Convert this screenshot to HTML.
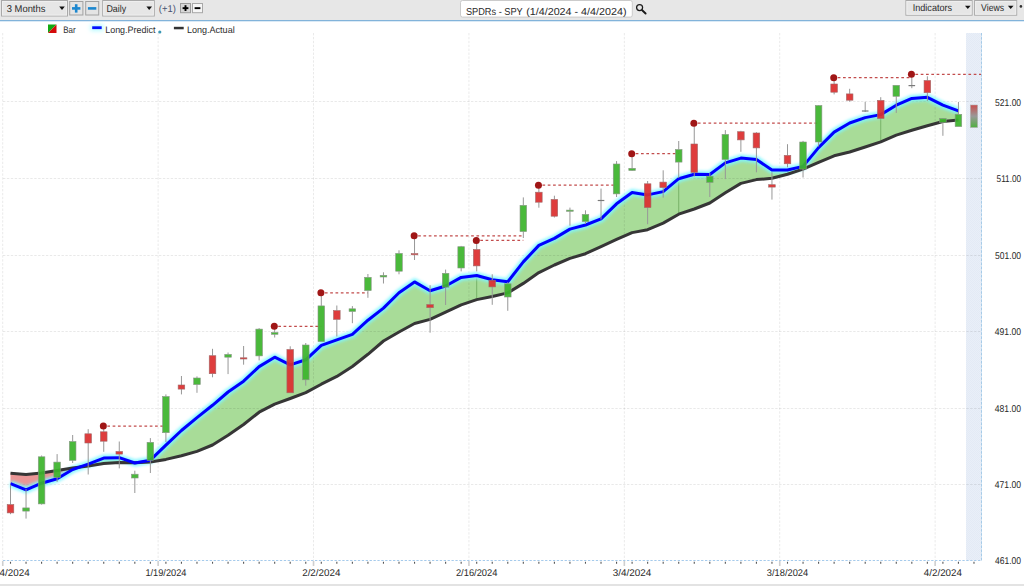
<!DOCTYPE html>
<html><head><meta charset="utf-8">
<style>
html,body{margin:0;padding:0;}
body{width:1024px;height:586px;overflow:hidden;position:relative;background:#fff;}
</style></head>
<body>
<svg width="1024" height="586" viewBox="0 0 1024 586" style="position:absolute;left:0;top:0;font-family:'Liberation Sans',sans-serif;text-rendering:geometricPrecision">
<defs>
<pattern id="hatch" width="2" height="2" patternUnits="userSpaceOnUse">
<rect width="2" height="2" fill="#e9eff8"/>
<rect width="1" height="1" fill="#e3eaf5"/>
<rect x="1" y="1" width="1" height="1" fill="#e3eaf5"/>
</pattern>
<filter id="glow" x="-10%" y="-30%" width="120%" height="160%">
<feGaussianBlur stdDeviation="1.8"/>
</filter>
<filter id="glow2" x="-50%" y="-100%" width="200%" height="300%">
<feGaussianBlur stdDeviation="2.2"/>
</filter>
<linearGradient id="pg" x1="0" y1="0" x2="0" y2="1">
<stop offset="0" stop-color="#c84e4e"/>
<stop offset="0.5" stop-color="#999999"/>
<stop offset="1" stop-color="#50b040"/>
</linearGradient>
</defs>
<rect width="1024" height="586" fill="#fff"/>
<rect x="966" y="33" width="15.5" height="527.5" fill="url(#hatch)"/>
<line x1="981.5" y1="33" x2="981.5" y2="560.5" stroke="#d6e6f4" stroke-width="1"/>
<line x1="981.5" y1="33" x2="981.5" y2="560.5" stroke="#a6cbe8" stroke-width="1" stroke-dasharray="2.5,1.6"/>
<path d="M10.5,483.7 L26.04,489.8 L41.58,483.2 L57.12,478.8 L72.66,469.5 L79.25,467.25 L79.25,467.25 L72.66,468.1 L57.12,470.5 L41.58,473 L26.04,474.4 L10.5,473.2 Z" fill="#ea9696"/>
<path d="M79.25,467.25 L88.2,464.2 L103.74,458.1 L119.28,457.7 L134.2,462.79 L134.2,462.79 L119.28,462.5 L103.74,463.5 L88.2,466.1 L79.25,467.25 Z" fill="#a8dc98"/>
<path d="M134.2,462.79 L134.82,463 L136.37,462.72 L136.37,462.72 L134.82,462.8 L134.2,462.79 Z" fill="#ea9696"/>
<path d="M136.37,462.72 L150.36,460.2 L165.9,445.1 L181.44,430.5 L196.98,417.6 L212.52,405.3 L228.06,392 L243.6,381.2 L259.14,366.6 L274.68,357.2 L290.22,364.9 L305.76,359.8 L321.3,345.4 L336.84,339.8 L352.38,334.3 L367.92,320.2 L383.46,308.1 L399,292.7 L414.54,281.9 L430.08,290.7 L445.62,286 L461.16,277.4 L476.7,275.5 L492.24,279.8 L507.78,281.7 L523.32,261.9 L538.86,245.4 L554.4,238.4 L569.94,229.1 L585.48,225 L601.02,218.9 L616.56,203.8 L632.1,192.5 L647.64,194.9 L663.18,191.6 L678.72,178.7 L694.26,174.3 L709.8,174.5 L725.34,162.9 L740.88,158.1 L756.42,159.5 L771.96,170.1 L787.5,170 L803.04,166.4 L818.58,147.6 L834.12,132.1 L849.66,123 L865.2,117.6 L880.74,114.6 L896.28,105.2 L911.82,98.4 L927.36,97.3 L942.9,105.1 L958.44,110.8 L958.44,120 L942.9,121.5 L927.36,125.7 L911.82,130.3 L896.28,135.1 L880.74,141.9 L865.2,147 L849.66,152 L834.12,155.8 L818.58,162.4 L803.04,169.1 L787.5,174.2 L771.96,178.3 L756.42,179.6 L740.88,183.4 L725.34,192.8 L709.8,203 L694.26,209 L678.72,214.2 L663.18,223.1 L647.64,229.7 L632.1,232.6 L616.56,239.4 L601.02,246.6 L585.48,253.7 L569.94,258.4 L554.4,265 L538.86,272.6 L523.32,283.4 L507.78,292.9 L492.24,296.5 L476.7,299.6 L461.16,304.8 L445.62,312.2 L430.08,319.4 L414.54,323.5 L399,332 L383.46,341 L367.92,354.3 L352.38,366.5 L336.84,376.4 L321.3,384.2 L305.76,392.6 L290.22,398.5 L274.68,404.1 L259.14,412.2 L243.6,424.5 L228.06,435.3 L212.52,445 L196.98,451.4 L181.44,455.8 L165.9,459.4 L150.36,462 L136.37,462.72 Z" fill="#a8dc98"/>
<line x1="476.7" y1="276.5" x2="476.7" y2="298.6" stroke="#78b268" stroke-width="1"/>
<line x1="678.72" y1="179.7" x2="678.72" y2="213.2" stroke="#78b268" stroke-width="1"/>
<line x1="880.74" y1="115.6" x2="880.74" y2="140.9" stroke="#78b268" stroke-width="1"/>
<line x1="3" y1="101.5" x2="981.5" y2="101.5" stroke="#000000" stroke-opacity="0.085" stroke-width="1" stroke-dasharray="2.4,1.5"/>
<line x1="3" y1="178.5" x2="981.5" y2="178.5" stroke="#000000" stroke-opacity="0.085" stroke-width="1" stroke-dasharray="2.4,1.5"/>
<line x1="3" y1="255.5" x2="981.5" y2="255.5" stroke="#000000" stroke-opacity="0.085" stroke-width="1" stroke-dasharray="2.4,1.5"/>
<line x1="3" y1="331.5" x2="981.5" y2="331.5" stroke="#000000" stroke-opacity="0.085" stroke-width="1" stroke-dasharray="2.4,1.5"/>
<line x1="3" y1="408.5" x2="981.5" y2="408.5" stroke="#000000" stroke-opacity="0.085" stroke-width="1" stroke-dasharray="2.4,1.5"/>
<line x1="3" y1="484.5" x2="981.5" y2="484.5" stroke="#000000" stroke-opacity="0.085" stroke-width="1" stroke-dasharray="2.4,1.5"/>
<line x1="2.73" y1="33" x2="2.73" y2="560.5" stroke="#000000" stroke-opacity="0.085" stroke-width="1" stroke-dasharray="2.4,1.5"/>
<line x1="2.73" y1="561" x2="2.73" y2="566" stroke="#cfcfcf" stroke-width="1.6"/>
<line x1="158.13" y1="33" x2="158.13" y2="560.5" stroke="#000000" stroke-opacity="0.085" stroke-width="1" stroke-dasharray="2.4,1.5"/>
<line x1="158.13" y1="561" x2="158.13" y2="566" stroke="#cfcfcf" stroke-width="1.6"/>
<line x1="313.53" y1="33" x2="313.53" y2="560.5" stroke="#000000" stroke-opacity="0.085" stroke-width="1" stroke-dasharray="2.4,1.5"/>
<line x1="313.53" y1="561" x2="313.53" y2="566" stroke="#cfcfcf" stroke-width="1.6"/>
<line x1="468.93" y1="33" x2="468.93" y2="560.5" stroke="#000000" stroke-opacity="0.085" stroke-width="1" stroke-dasharray="2.4,1.5"/>
<line x1="468.93" y1="561" x2="468.93" y2="566" stroke="#cfcfcf" stroke-width="1.6"/>
<line x1="624.33" y1="33" x2="624.33" y2="560.5" stroke="#000000" stroke-opacity="0.085" stroke-width="1" stroke-dasharray="2.4,1.5"/>
<line x1="624.33" y1="561" x2="624.33" y2="566" stroke="#cfcfcf" stroke-width="1.6"/>
<line x1="779.73" y1="33" x2="779.73" y2="560.5" stroke="#000000" stroke-opacity="0.085" stroke-width="1" stroke-dasharray="2.4,1.5"/>
<line x1="779.73" y1="561" x2="779.73" y2="566" stroke="#cfcfcf" stroke-width="1.6"/>
<line x1="935.13" y1="33" x2="935.13" y2="560.5" stroke="#000000" stroke-opacity="0.085" stroke-width="1" stroke-dasharray="2.4,1.5"/>
<line x1="935.13" y1="561" x2="935.13" y2="566" stroke="#cfcfcf" stroke-width="1.6"/>
<polyline points="10.5,483.7 26.04,489.8 41.58,483.2 57.12,478.8 72.66,469.5 88.2,464.2 103.74,458.1 119.28,457.7 134.82,463 150.36,460.2 165.9,445.1 181.44,430.5 196.98,417.6 212.52,405.3 228.06,392 243.6,381.2 259.14,366.6 274.68,357.2 290.22,364.9 305.76,359.8 321.3,345.4 336.84,339.8 352.38,334.3 367.92,320.2 383.46,308.1 399,292.7 414.54,281.9 430.08,290.7 445.62,286 461.16,277.4 476.7,275.5 492.24,279.8 507.78,281.7 523.32,261.9 538.86,245.4 554.4,238.4 569.94,229.1 585.48,225 601.02,218.9 616.56,203.8 632.1,192.5 647.64,194.9 663.18,191.6 678.72,178.7 694.26,174.3 709.8,174.5 725.34,162.9 740.88,158.1 756.42,159.5 771.96,170.1 787.5,170 803.04,166.4 818.58,147.6 834.12,132.1 849.66,123 865.2,117.6 880.74,114.6 896.28,105.2 911.82,98.4 927.36,97.3 942.9,105.1 958.44,110.8" fill="none" stroke="#7ff6ff" stroke-width="7" stroke-linejoin="round" opacity="0.9" filter="url(#glow)"/>
<polyline points="10.5,473.2 26.04,474.4 41.58,473 57.12,470.5 72.66,468.1 88.2,466.1 103.74,463.5 119.28,462.5 134.82,462.8 150.36,462 165.9,459.4 181.44,455.8 196.98,451.4 212.52,445 228.06,435.3 243.6,424.5 259.14,412.2 274.68,404.1 290.22,398.5 305.76,392.6 321.3,384.2 336.84,376.4 352.38,366.5 367.92,354.3 383.46,341 399,332 414.54,323.5 430.08,319.4 445.62,312.2 461.16,304.8 476.7,299.6 492.24,296.5 507.78,292.9 523.32,283.4 538.86,272.6 554.4,265 569.94,258.4 585.48,253.7 601.02,246.6 616.56,239.4 632.1,232.6 647.64,229.7 663.18,223.1 678.72,214.2 694.26,209 709.8,203 725.34,192.8 740.88,183.4 756.42,179.6 771.96,178.3 787.5,174.2 803.04,169.1 818.58,162.4 834.12,155.8 849.66,152 865.2,147 880.74,141.9 896.28,135.1 911.82,130.3 927.36,125.7 942.9,121.5 958.44,120" fill="none" stroke="#363636" stroke-width="3" stroke-linejoin="round"/>
<polyline points="10.5,483.7 26.04,489.8 41.58,483.2 57.12,478.8 72.66,469.5 88.2,464.2 103.74,458.1 119.28,457.7 134.82,463 150.36,460.2 165.9,445.1 181.44,430.5 196.98,417.6 212.52,405.3 228.06,392 243.6,381.2 259.14,366.6 274.68,357.2 290.22,364.9 305.76,359.8 321.3,345.4 336.84,339.8 352.38,334.3 367.92,320.2 383.46,308.1 399,292.7 414.54,281.9 430.08,290.7 445.62,286 461.16,277.4 476.7,275.5 492.24,279.8 507.78,281.7 523.32,261.9 538.86,245.4 554.4,238.4 569.94,229.1 585.48,225 601.02,218.9 616.56,203.8 632.1,192.5 647.64,194.9 663.18,191.6 678.72,178.7 694.26,174.3 709.8,174.5 725.34,162.9 740.88,158.1 756.42,159.5 771.96,170.1 787.5,170 803.04,166.4 818.58,147.6 834.12,132.1 849.66,123 865.2,117.6 880.74,114.6 896.28,105.2 911.82,98.4 927.36,97.3 942.9,105.1 958.44,110.8" fill="none" stroke="#0000ff" stroke-width="3.0" stroke-linejoin="round"/>
<line x1="107.34" y1="426.1" x2="165.9" y2="426.1" stroke="#c24c4c" stroke-width="1.25" stroke-dasharray="2.7,2.6"/>
<line x1="278.28" y1="326.3" x2="321.3" y2="326.3" stroke="#c24c4c" stroke-width="1.25" stroke-dasharray="2.7,2.6"/>
<line x1="324.9" y1="292.8" x2="367.92" y2="292.8" stroke="#c24c4c" stroke-width="1.25" stroke-dasharray="2.7,2.6"/>
<line x1="418.14" y1="235.8" x2="523.32" y2="235.8" stroke="#c24c4c" stroke-width="1.25" stroke-dasharray="2.7,2.6"/>
<line x1="480.3" y1="240.4" x2="523.32" y2="240.4" stroke="#c24c4c" stroke-width="1.25" stroke-dasharray="2.7,2.6"/>
<line x1="542.46" y1="185.2" x2="616.56" y2="185.2" stroke="#c24c4c" stroke-width="1.25" stroke-dasharray="2.7,2.6"/>
<line x1="635.7" y1="153.7" x2="678.72" y2="153.7" stroke="#c24c4c" stroke-width="1.25" stroke-dasharray="2.7,2.6"/>
<line x1="697.86" y1="123.2" x2="818.58" y2="123.2" stroke="#c24c4c" stroke-width="1.25" stroke-dasharray="2.7,2.6"/>
<line x1="837.72" y1="77.7" x2="910" y2="77.7" stroke="#c24c4c" stroke-width="1.25" stroke-dasharray="2.7,2.6"/>
<line x1="915.42" y1="74.3" x2="981" y2="74.3" stroke="#c24c4c" stroke-width="1.25" stroke-dasharray="2.7,2.6"/>
<line x1="10.5" y1="484.5" x2="10.5" y2="504.6" stroke="#979797" stroke-width="1"/>
<line x1="10.5" y1="512.9" x2="10.5" y2="514.2" stroke="#979797" stroke-width="1"/>
<rect x="7.2" y="504.6" width="6.6" height="8.3" fill="#dc2e2e" stroke="#a06a6a" stroke-width="0.6" fill-opacity="0.93"/>
<line x1="26.04" y1="489" x2="26.04" y2="507.9" stroke="#979797" stroke-width="1"/>
<line x1="26.04" y1="511.1" x2="26.04" y2="518.6" stroke="#979797" stroke-width="1"/>
<rect x="22.74" y="507.9" width="6.6" height="3.2" fill="#3cb42c" stroke="#8a9688" stroke-width="0.6" fill-opacity="0.93"/>
<line x1="41.58" y1="455.5" x2="41.58" y2="456.8" stroke="#979797" stroke-width="1"/>
<line x1="41.58" y1="503.9" x2="41.58" y2="504.6" stroke="#979797" stroke-width="1"/>
<rect x="38.28" y="456.8" width="6.6" height="47.1" fill="#3cb42c" stroke="#8a9688" stroke-width="0.6" fill-opacity="0.93"/>
<line x1="57.12" y1="454.1" x2="57.12" y2="462.1" stroke="#979797" stroke-width="1"/>
<line x1="57.12" y1="477.4" x2="57.12" y2="481.9" stroke="#979797" stroke-width="1"/>
<rect x="53.82" y="462.1" width="6.6" height="15.3" fill="#3cb42c" stroke="#8a9688" stroke-width="0.6" fill-opacity="0.93"/>
<line x1="72.66" y1="435" x2="72.66" y2="441.5" stroke="#979797" stroke-width="1"/>
<line x1="72.66" y1="460.4" x2="72.66" y2="463" stroke="#979797" stroke-width="1"/>
<rect x="69.36" y="441.5" width="6.6" height="18.9" fill="#3cb42c" stroke="#8a9688" stroke-width="0.6" fill-opacity="0.93"/>
<line x1="88.2" y1="429.2" x2="88.2" y2="433.8" stroke="#979797" stroke-width="1"/>
<line x1="88.2" y1="443" x2="88.2" y2="474.5" stroke="#979797" stroke-width="1"/>
<rect x="84.9" y="433.8" width="6.6" height="9.2" fill="#dc2e2e" stroke="#a06a6a" stroke-width="0.6" fill-opacity="0.93"/>
<line x1="103.74" y1="426" x2="103.74" y2="431.8" stroke="#979797" stroke-width="1"/>
<line x1="103.74" y1="441.2" x2="103.74" y2="451.8" stroke="#979797" stroke-width="1"/>
<rect x="100.44" y="431.8" width="6.6" height="9.4" fill="#dc2e2e" stroke="#a06a6a" stroke-width="0.6" fill-opacity="0.93"/>
<line x1="119.28" y1="441.5" x2="119.28" y2="451.5" stroke="#979797" stroke-width="1"/>
<line x1="119.28" y1="454.1" x2="119.28" y2="468.4" stroke="#979797" stroke-width="1"/>
<rect x="115.98" y="451.5" width="6.6" height="2.6" fill="#dc2e2e" stroke="#a06a6a" stroke-width="0.6" fill-opacity="0.93"/>
<line x1="134.82" y1="470.7" x2="134.82" y2="474.2" stroke="#979797" stroke-width="1"/>
<line x1="134.82" y1="478" x2="134.82" y2="493" stroke="#979797" stroke-width="1"/>
<rect x="131.52" y="474.2" width="6.6" height="3.8" fill="#3cb42c" stroke="#8a9688" stroke-width="0.6" fill-opacity="0.93"/>
<line x1="150.36" y1="438.1" x2="150.36" y2="442.3" stroke="#979797" stroke-width="1"/>
<line x1="150.36" y1="460.4" x2="150.36" y2="473" stroke="#979797" stroke-width="1"/>
<rect x="147.06" y="442.3" width="6.6" height="18.1" fill="#3cb42c" stroke="#8a9688" stroke-width="0.6" fill-opacity="0.93"/>
<line x1="165.9" y1="394.4" x2="165.9" y2="396.5" stroke="#979797" stroke-width="1"/>
<line x1="165.9" y1="432.7" x2="165.9" y2="442" stroke="#979797" stroke-width="1"/>
<rect x="162.6" y="396.5" width="6.6" height="36.2" fill="#3cb42c" stroke="#8a9688" stroke-width="0.6" fill-opacity="0.93"/>
<line x1="181.44" y1="376" x2="181.44" y2="385" stroke="#979797" stroke-width="1"/>
<line x1="181.44" y1="389.1" x2="181.44" y2="394.4" stroke="#979797" stroke-width="1"/>
<rect x="178.14" y="385" width="6.6" height="4.1" fill="#dc2e2e" stroke="#a06a6a" stroke-width="0.6" fill-opacity="0.93"/>
<line x1="196.98" y1="376.4" x2="196.98" y2="378" stroke="#979797" stroke-width="1"/>
<line x1="196.98" y1="384.6" x2="196.98" y2="392.8" stroke="#979797" stroke-width="1"/>
<rect x="193.68" y="378" width="6.6" height="6.6" fill="#3cb42c" stroke="#8a9688" stroke-width="0.6" fill-opacity="0.93"/>
<line x1="212.52" y1="348.8" x2="212.52" y2="355.7" stroke="#979797" stroke-width="1"/>
<line x1="212.52" y1="373.7" x2="212.52" y2="377.3" stroke="#979797" stroke-width="1"/>
<rect x="209.22" y="355.7" width="6.6" height="18" fill="#dc2e2e" stroke="#a06a6a" stroke-width="0.6" fill-opacity="0.93"/>
<line x1="228.06" y1="352.5" x2="228.06" y2="354.4" stroke="#979797" stroke-width="1"/>
<line x1="228.06" y1="357.2" x2="228.06" y2="374.1" stroke="#979797" stroke-width="1"/>
<rect x="224.76" y="354.4" width="6.6" height="2.8" fill="#3cb42c" stroke="#8a9688" stroke-width="0.6" fill-opacity="0.93"/>
<line x1="243.6" y1="346" x2="243.6" y2="357.8" stroke="#979797" stroke-width="1"/>
<line x1="243.6" y1="359" x2="243.6" y2="364.7" stroke="#979797" stroke-width="1"/>
<rect x="240.3" y="357.8" width="6.6" height="1.2" fill="#dc2e2e" stroke="#a06a6a" stroke-width="0.6" fill-opacity="0.93"/>
<line x1="259.14" y1="328.1" x2="259.14" y2="329.1" stroke="#979797" stroke-width="1"/>
<line x1="259.14" y1="355.9" x2="259.14" y2="360.4" stroke="#979797" stroke-width="1"/>
<rect x="255.84" y="329.1" width="6.6" height="26.8" fill="#3cb42c" stroke="#8a9688" stroke-width="0.6" fill-opacity="0.93"/>
<line x1="274.68" y1="326.3" x2="274.68" y2="332.5" stroke="#979797" stroke-width="1"/>
<line x1="274.68" y1="334.3" x2="274.68" y2="337.5" stroke="#979797" stroke-width="1"/>
<rect x="271.38" y="332.5" width="6.6" height="1.8" fill="#3cb42c" stroke="#8a9688" stroke-width="0.6" fill-opacity="0.93"/>
<line x1="290.22" y1="346.3" x2="290.22" y2="349.5" stroke="#979797" stroke-width="1"/>
<rect x="286.92" y="349.5" width="6.6" height="43.3" fill="#dc2e2e" stroke="#a06a6a" stroke-width="0.6" fill-opacity="0.93"/>
<line x1="305.76" y1="343" x2="305.76" y2="345" stroke="#979797" stroke-width="1"/>
<line x1="305.76" y1="379.8" x2="305.76" y2="385.7" stroke="#979797" stroke-width="1"/>
<rect x="302.46" y="345" width="6.6" height="34.8" fill="#3cb42c" stroke="#8a9688" stroke-width="0.6" fill-opacity="0.93"/>
<line x1="321.3" y1="292.8" x2="321.3" y2="305.9" stroke="#979797" stroke-width="1"/>
<rect x="318" y="305.9" width="6.6" height="35.7" fill="#3cb42c" stroke="#8a9688" stroke-width="0.6" fill-opacity="0.93"/>
<line x1="336.84" y1="305.5" x2="336.84" y2="310.6" stroke="#979797" stroke-width="1"/>
<line x1="336.84" y1="319.4" x2="336.84" y2="336.5" stroke="#979797" stroke-width="1"/>
<rect x="333.54" y="310.6" width="6.6" height="8.8" fill="#dc2e2e" stroke="#a06a6a" stroke-width="0.6" fill-opacity="0.93"/>
<line x1="352.38" y1="306.1" x2="352.38" y2="308.8" stroke="#979797" stroke-width="1"/>
<line x1="352.38" y1="311.5" x2="352.38" y2="323.2" stroke="#979797" stroke-width="1"/>
<rect x="349.08" y="308.8" width="6.6" height="2.7" fill="#3cb42c" stroke="#8a9688" stroke-width="0.6" fill-opacity="0.93"/>
<line x1="367.92" y1="274" x2="367.92" y2="277.3" stroke="#979797" stroke-width="1"/>
<line x1="367.92" y1="290.6" x2="367.92" y2="297.8" stroke="#979797" stroke-width="1"/>
<rect x="364.62" y="277.3" width="6.6" height="13.3" fill="#3cb42c" stroke="#8a9688" stroke-width="0.6" fill-opacity="0.93"/>
<line x1="383.46" y1="272.3" x2="383.46" y2="275.3" stroke="#979797" stroke-width="1"/>
<line x1="383.46" y1="277" x2="383.46" y2="283.5" stroke="#979797" stroke-width="1"/>
<rect x="380.16" y="275.3" width="6.6" height="1.7" fill="#3cb42c" stroke="#8a9688" stroke-width="0.6" fill-opacity="0.93"/>
<line x1="399" y1="250.3" x2="399" y2="253.4" stroke="#979797" stroke-width="1"/>
<line x1="399" y1="271.2" x2="399" y2="274.3" stroke="#979797" stroke-width="1"/>
<rect x="395.7" y="253.4" width="6.6" height="17.8" fill="#3cb42c" stroke="#8a9688" stroke-width="0.6" fill-opacity="0.93"/>
<line x1="414.54" y1="235.8" x2="414.54" y2="253.6" stroke="#979797" stroke-width="1"/>
<line x1="414.54" y1="254.8" x2="414.54" y2="260" stroke="#979797" stroke-width="1"/>
<rect x="411.24" y="253.6" width="6.6" height="1.2" fill="#dc2e2e" stroke="#a06a6a" stroke-width="0.6" fill-opacity="0.93"/>
<line x1="430.08" y1="285.2" x2="430.08" y2="304.6" stroke="#979797" stroke-width="1"/>
<line x1="430.08" y1="307.7" x2="430.08" y2="332.7" stroke="#979797" stroke-width="1"/>
<rect x="426.78" y="304.6" width="6.6" height="3.1" fill="#dc2e2e" stroke="#a06a6a" stroke-width="0.6" fill-opacity="0.93"/>
<line x1="445.62" y1="269.6" x2="445.62" y2="273.3" stroke="#979797" stroke-width="1"/>
<line x1="445.62" y1="287.2" x2="445.62" y2="305" stroke="#979797" stroke-width="1"/>
<rect x="442.32" y="273.3" width="6.6" height="13.9" fill="#3cb42c" stroke="#8a9688" stroke-width="0.6" fill-opacity="0.93"/>
<line x1="461.16" y1="245.9" x2="461.16" y2="246.7" stroke="#979797" stroke-width="1"/>
<line x1="461.16" y1="268" x2="461.16" y2="271.4" stroke="#979797" stroke-width="1"/>
<rect x="457.86" y="246.7" width="6.6" height="21.3" fill="#3cb42c" stroke="#8a9688" stroke-width="0.6" fill-opacity="0.93"/>
<line x1="476.7" y1="240.4" x2="476.7" y2="249.5" stroke="#979797" stroke-width="1"/>
<line x1="476.7" y1="265.9" x2="476.7" y2="271.4" stroke="#979797" stroke-width="1"/>
<rect x="473.4" y="249.5" width="6.6" height="16.4" fill="#dc2e2e" stroke="#a06a6a" stroke-width="0.6" fill-opacity="0.93"/>
<line x1="492.24" y1="274.3" x2="492.24" y2="280.3" stroke="#979797" stroke-width="1"/>
<line x1="492.24" y1="286.9" x2="492.24" y2="304.8" stroke="#979797" stroke-width="1"/>
<rect x="488.94" y="280.3" width="6.6" height="6.6" fill="#dc2e2e" stroke="#a06a6a" stroke-width="0.6" fill-opacity="0.93"/>
<line x1="507.78" y1="282.2" x2="507.78" y2="283.8" stroke="#979797" stroke-width="1"/>
<line x1="507.78" y1="297" x2="507.78" y2="310.8" stroke="#979797" stroke-width="1"/>
<rect x="504.48" y="283.8" width="6.6" height="13.2" fill="#3cb42c" stroke="#8a9688" stroke-width="0.6" fill-opacity="0.93"/>
<line x1="523.32" y1="197.4" x2="523.32" y2="205.3" stroke="#979797" stroke-width="1"/>
<line x1="523.32" y1="231.6" x2="523.32" y2="238" stroke="#979797" stroke-width="1"/>
<rect x="520.02" y="205.3" width="6.6" height="26.3" fill="#3cb42c" stroke="#8a9688" stroke-width="0.6" fill-opacity="0.93"/>
<line x1="538.86" y1="184.8" x2="538.86" y2="192.2" stroke="#979797" stroke-width="1"/>
<line x1="538.86" y1="202.2" x2="538.86" y2="207.7" stroke="#979797" stroke-width="1"/>
<rect x="535.56" y="192.2" width="6.6" height="10" fill="#dc2e2e" stroke="#a06a6a" stroke-width="0.6" fill-opacity="0.93"/>
<line x1="554.4" y1="195.7" x2="554.4" y2="199.4" stroke="#979797" stroke-width="1"/>
<line x1="554.4" y1="216.2" x2="554.4" y2="217.5" stroke="#979797" stroke-width="1"/>
<rect x="551.1" y="199.4" width="6.6" height="16.8" fill="#dc2e2e" stroke="#a06a6a" stroke-width="0.6" fill-opacity="0.93"/>
<line x1="569.94" y1="207.6" x2="569.94" y2="210.1" stroke="#979797" stroke-width="1"/>
<line x1="569.94" y1="211.3" x2="569.94" y2="225.7" stroke="#979797" stroke-width="1"/>
<rect x="566.64" y="210.1" width="6.6" height="1.2" fill="#3cb42c" stroke="#8a9688" stroke-width="0.6" fill-opacity="0.93"/>
<line x1="585.48" y1="210.3" x2="585.48" y2="214.4" stroke="#979797" stroke-width="1"/>
<line x1="585.48" y1="221.6" x2="585.48" y2="224" stroke="#979797" stroke-width="1"/>
<rect x="582.18" y="214.4" width="6.6" height="7.2" fill="#3cb42c" stroke="#8a9688" stroke-width="0.6" fill-opacity="0.93"/>
<line x1="601.02" y1="188.6" x2="601.02" y2="219.5" stroke="#979797" stroke-width="1"/>
<line x1="597.72" y1="200.5" x2="604.32" y2="200.5" stroke="#7a7a7a" stroke-width="1.2"/>
<line x1="616.56" y1="161.1" x2="616.56" y2="164" stroke="#979797" stroke-width="1"/>
<line x1="616.56" y1="193.9" x2="616.56" y2="197" stroke="#979797" stroke-width="1"/>
<rect x="613.26" y="164" width="6.6" height="29.9" fill="#3cb42c" stroke="#8a9688" stroke-width="0.6" fill-opacity="0.93"/>
<line x1="632.1" y1="153.7" x2="632.1" y2="168.3" stroke="#979797" stroke-width="1"/>
<line x1="632.1" y1="170.5" x2="632.1" y2="171" stroke="#979797" stroke-width="1"/>
<rect x="628.8" y="168.3" width="6.6" height="2.2" fill="#3cb42c" stroke="#8a9688" stroke-width="0.6" fill-opacity="0.93"/>
<line x1="647.64" y1="181" x2="647.64" y2="183.8" stroke="#979797" stroke-width="1"/>
<line x1="647.64" y1="207.6" x2="647.64" y2="224.2" stroke="#979797" stroke-width="1"/>
<rect x="644.34" y="183.8" width="6.6" height="23.8" fill="#dc2e2e" stroke="#a06a6a" stroke-width="0.6" fill-opacity="0.93"/>
<line x1="663.18" y1="170.3" x2="663.18" y2="182.1" stroke="#979797" stroke-width="1"/>
<line x1="663.18" y1="187.6" x2="663.18" y2="197.6" stroke="#979797" stroke-width="1"/>
<rect x="659.88" y="182.1" width="6.6" height="5.5" fill="#dc2e2e" stroke="#a06a6a" stroke-width="0.6" fill-opacity="0.93"/>
<line x1="678.72" y1="141" x2="678.72" y2="149.5" stroke="#979797" stroke-width="1"/>
<line x1="678.72" y1="162.1" x2="678.72" y2="178" stroke="#979797" stroke-width="1"/>
<rect x="675.42" y="149.5" width="6.6" height="12.6" fill="#3cb42c" stroke="#8a9688" stroke-width="0.6" fill-opacity="0.93"/>
<line x1="694.26" y1="123.2" x2="694.26" y2="144" stroke="#979797" stroke-width="1"/>
<line x1="694.26" y1="172.4" x2="694.26" y2="176.5" stroke="#979797" stroke-width="1"/>
<rect x="690.96" y="144" width="6.6" height="28.4" fill="#dc2e2e" stroke="#a06a6a" stroke-width="0.6" fill-opacity="0.93"/>
<line x1="709.8" y1="173.1" x2="709.8" y2="176.2" stroke="#979797" stroke-width="1"/>
<line x1="709.8" y1="182.5" x2="709.8" y2="197" stroke="#979797" stroke-width="1"/>
<rect x="706.5" y="176.2" width="6.6" height="6.3" fill="#3cb42c" stroke="#8a9688" stroke-width="0.6" fill-opacity="0.93"/>
<line x1="725.34" y1="130.1" x2="725.34" y2="134.4" stroke="#979797" stroke-width="1"/>
<line x1="725.34" y1="159.5" x2="725.34" y2="179.1" stroke="#979797" stroke-width="1"/>
<rect x="722.04" y="134.4" width="6.6" height="25.1" fill="#3cb42c" stroke="#8a9688" stroke-width="0.6" fill-opacity="0.93"/>
<line x1="740.88" y1="130.8" x2="740.88" y2="131.7" stroke="#979797" stroke-width="1"/>
<line x1="740.88" y1="139.9" x2="740.88" y2="151.8" stroke="#979797" stroke-width="1"/>
<rect x="737.58" y="131.7" width="6.6" height="8.2" fill="#dc2e2e" stroke="#a06a6a" stroke-width="0.6" fill-opacity="0.93"/>
<line x1="756.42" y1="132.2" x2="756.42" y2="133" stroke="#979797" stroke-width="1"/>
<line x1="756.42" y1="147.9" x2="756.42" y2="172.3" stroke="#979797" stroke-width="1"/>
<rect x="753.12" y="133" width="6.6" height="14.9" fill="#dc2e2e" stroke="#a06a6a" stroke-width="0.6" fill-opacity="0.93"/>
<line x1="771.96" y1="172.3" x2="771.96" y2="184.7" stroke="#979797" stroke-width="1"/>
<line x1="771.96" y1="187.1" x2="771.96" y2="199.6" stroke="#979797" stroke-width="1"/>
<rect x="768.66" y="184.7" width="6.6" height="2.4" fill="#dc2e2e" stroke="#a06a6a" stroke-width="0.6" fill-opacity="0.93"/>
<line x1="787.5" y1="144.2" x2="787.5" y2="155.4" stroke="#979797" stroke-width="1"/>
<line x1="787.5" y1="163.8" x2="787.5" y2="167.3" stroke="#979797" stroke-width="1"/>
<rect x="784.2" y="155.4" width="6.6" height="8.4" fill="#dc2e2e" stroke="#a06a6a" stroke-width="0.6" fill-opacity="0.93"/>
<line x1="803.04" y1="140.9" x2="803.04" y2="142" stroke="#979797" stroke-width="1"/>
<line x1="803.04" y1="169.1" x2="803.04" y2="177.5" stroke="#979797" stroke-width="1"/>
<rect x="799.74" y="142" width="6.6" height="27.1" fill="#3cb42c" stroke="#8a9688" stroke-width="0.6" fill-opacity="0.93"/>
<line x1="818.58" y1="105" x2="818.58" y2="105.5" stroke="#979797" stroke-width="1"/>
<line x1="818.58" y1="142" x2="818.58" y2="146.5" stroke="#979797" stroke-width="1"/>
<rect x="815.28" y="105.5" width="6.6" height="36.5" fill="#3cb42c" stroke="#8a9688" stroke-width="0.6" fill-opacity="0.93"/>
<line x1="834.12" y1="77.7" x2="834.12" y2="84" stroke="#979797" stroke-width="1"/>
<line x1="834.12" y1="92.2" x2="834.12" y2="94.4" stroke="#979797" stroke-width="1"/>
<rect x="830.82" y="84" width="6.6" height="8.2" fill="#dc2e2e" stroke="#a06a6a" stroke-width="0.6" fill-opacity="0.93"/>
<line x1="849.66" y1="88.8" x2="849.66" y2="93.9" stroke="#979797" stroke-width="1"/>
<line x1="849.66" y1="100.2" x2="849.66" y2="101.7" stroke="#979797" stroke-width="1"/>
<rect x="846.36" y="93.9" width="6.6" height="6.3" fill="#dc2e2e" stroke="#a06a6a" stroke-width="0.6" fill-opacity="0.93"/>
<line x1="865.2" y1="101.8" x2="865.2" y2="112" stroke="#979797" stroke-width="1"/>
<line x1="861.9" y1="111" x2="868.5" y2="111" stroke="#7a7a7a" stroke-width="1.2"/>
<line x1="880.74" y1="97.2" x2="880.74" y2="100.4" stroke="#979797" stroke-width="1"/>
<rect x="877.44" y="100.4" width="6.6" height="18.1" fill="#dc2e2e" stroke="#a06a6a" stroke-width="0.6" fill-opacity="0.93"/>
<line x1="896.28" y1="96.3" x2="896.28" y2="112.9" stroke="#979797" stroke-width="1"/>
<rect x="892.98" y="85.3" width="6.6" height="11" fill="#3cb42c" stroke="#8a9688" stroke-width="0.6" fill-opacity="0.93"/>
<line x1="911.82" y1="74.3" x2="911.82" y2="88.2" stroke="#979797" stroke-width="1"/>
<line x1="908.52" y1="85.6" x2="915.12" y2="85.6" stroke="#7a7a7a" stroke-width="1.2"/>
<line x1="927.36" y1="76.3" x2="927.36" y2="80.5" stroke="#979797" stroke-width="1"/>
<line x1="927.36" y1="92.7" x2="927.36" y2="101" stroke="#979797" stroke-width="1"/>
<rect x="924.06" y="80.5" width="6.6" height="12.2" fill="#dc2e2e" stroke="#a06a6a" stroke-width="0.6" fill-opacity="0.93"/>
<line x1="942.9" y1="118" x2="942.9" y2="118.4" stroke="#979797" stroke-width="1"/>
<line x1="942.9" y1="122.4" x2="942.9" y2="135.8" stroke="#979797" stroke-width="1"/>
<rect x="939.6" y="118.4" width="6.6" height="4" fill="#3cb42c" stroke="#8a9688" stroke-width="0.6" fill-opacity="0.93"/>
<line x1="958.44" y1="102" x2="958.44" y2="114.3" stroke="#979797" stroke-width="1"/>
<rect x="955.14" y="114.3" width="6.6" height="12.3" fill="#3cb42c" stroke="#8a9688" stroke-width="0.6" fill-opacity="0.93"/>
<rect x="970.38" y="105" width="7.2" height="22.5" fill="url(#pg)" stroke="#b0b0b0" stroke-width="0.6"/>
<circle cx="103.34" cy="426.1" r="3.5" fill="#a01616"/>
<circle cx="274.28" cy="326.3" r="3.5" fill="#a01616"/>
<circle cx="320.9" cy="292.8" r="3.5" fill="#a01616"/>
<circle cx="414.14" cy="235.8" r="3.5" fill="#a01616"/>
<circle cx="476.3" cy="240.4" r="3.5" fill="#a01616"/>
<circle cx="538.46" cy="185.2" r="3.5" fill="#a01616"/>
<circle cx="631.7" cy="153.7" r="3.5" fill="#a01616"/>
<circle cx="693.86" cy="123.2" r="3.5" fill="#a01616"/>
<circle cx="833.72" cy="77.7" r="3.5" fill="#a01616"/>
<circle cx="911.42" cy="74.3" r="3.5" fill="#a01616"/>
<line x1="3" y1="560.5" x2="981.5" y2="560.5" stroke="#a6cbec" stroke-width="1" stroke-dasharray="2.3,1.6"/>
<line x1="10.5" y1="561.8" x2="10.5" y2="563.7" stroke="#555" stroke-width="1.1"/>
<line x1="26.04" y1="561.8" x2="26.04" y2="563.7" stroke="#555" stroke-width="1.1"/>
<line x1="41.58" y1="561.8" x2="41.58" y2="563.7" stroke="#555" stroke-width="1.1"/>
<line x1="57.12" y1="561.8" x2="57.12" y2="563.7" stroke="#555" stroke-width="1.1"/>
<line x1="72.66" y1="561.8" x2="72.66" y2="563.7" stroke="#555" stroke-width="1.1"/>
<line x1="88.2" y1="561.8" x2="88.2" y2="563.7" stroke="#555" stroke-width="1.1"/>
<line x1="103.74" y1="561.8" x2="103.74" y2="563.7" stroke="#555" stroke-width="1.1"/>
<line x1="119.28" y1="561.8" x2="119.28" y2="563.7" stroke="#555" stroke-width="1.1"/>
<line x1="134.82" y1="561.8" x2="134.82" y2="563.7" stroke="#555" stroke-width="1.1"/>
<line x1="150.36" y1="561.8" x2="150.36" y2="563.7" stroke="#555" stroke-width="1.1"/>
<line x1="165.9" y1="561.8" x2="165.9" y2="563.7" stroke="#555" stroke-width="1.1"/>
<line x1="181.44" y1="561.8" x2="181.44" y2="563.7" stroke="#555" stroke-width="1.1"/>
<line x1="196.98" y1="561.8" x2="196.98" y2="563.7" stroke="#555" stroke-width="1.1"/>
<line x1="212.52" y1="561.8" x2="212.52" y2="563.7" stroke="#555" stroke-width="1.1"/>
<line x1="228.06" y1="561.8" x2="228.06" y2="563.7" stroke="#555" stroke-width="1.1"/>
<line x1="243.6" y1="561.8" x2="243.6" y2="563.7" stroke="#555" stroke-width="1.1"/>
<line x1="259.14" y1="561.8" x2="259.14" y2="563.7" stroke="#555" stroke-width="1.1"/>
<line x1="274.68" y1="561.8" x2="274.68" y2="563.7" stroke="#555" stroke-width="1.1"/>
<line x1="290.22" y1="561.8" x2="290.22" y2="563.7" stroke="#555" stroke-width="1.1"/>
<line x1="305.76" y1="561.8" x2="305.76" y2="563.7" stroke="#555" stroke-width="1.1"/>
<line x1="321.3" y1="561.8" x2="321.3" y2="563.7" stroke="#555" stroke-width="1.1"/>
<line x1="336.84" y1="561.8" x2="336.84" y2="563.7" stroke="#555" stroke-width="1.1"/>
<line x1="352.38" y1="561.8" x2="352.38" y2="563.7" stroke="#555" stroke-width="1.1"/>
<line x1="367.92" y1="561.8" x2="367.92" y2="563.7" stroke="#555" stroke-width="1.1"/>
<line x1="383.46" y1="561.8" x2="383.46" y2="563.7" stroke="#555" stroke-width="1.1"/>
<line x1="399" y1="561.8" x2="399" y2="563.7" stroke="#555" stroke-width="1.1"/>
<line x1="414.54" y1="561.8" x2="414.54" y2="563.7" stroke="#555" stroke-width="1.1"/>
<line x1="430.08" y1="561.8" x2="430.08" y2="563.7" stroke="#555" stroke-width="1.1"/>
<line x1="445.62" y1="561.8" x2="445.62" y2="563.7" stroke="#555" stroke-width="1.1"/>
<line x1="461.16" y1="561.8" x2="461.16" y2="563.7" stroke="#555" stroke-width="1.1"/>
<line x1="476.7" y1="561.8" x2="476.7" y2="563.7" stroke="#555" stroke-width="1.1"/>
<line x1="492.24" y1="561.8" x2="492.24" y2="563.7" stroke="#555" stroke-width="1.1"/>
<line x1="507.78" y1="561.8" x2="507.78" y2="563.7" stroke="#555" stroke-width="1.1"/>
<line x1="523.32" y1="561.8" x2="523.32" y2="563.7" stroke="#555" stroke-width="1.1"/>
<line x1="538.86" y1="561.8" x2="538.86" y2="563.7" stroke="#555" stroke-width="1.1"/>
<line x1="554.4" y1="561.8" x2="554.4" y2="563.7" stroke="#555" stroke-width="1.1"/>
<line x1="569.94" y1="561.8" x2="569.94" y2="563.7" stroke="#555" stroke-width="1.1"/>
<line x1="585.48" y1="561.8" x2="585.48" y2="563.7" stroke="#555" stroke-width="1.1"/>
<line x1="601.02" y1="561.8" x2="601.02" y2="563.7" stroke="#555" stroke-width="1.1"/>
<line x1="616.56" y1="561.8" x2="616.56" y2="563.7" stroke="#555" stroke-width="1.1"/>
<line x1="632.1" y1="561.8" x2="632.1" y2="563.7" stroke="#555" stroke-width="1.1"/>
<line x1="647.64" y1="561.8" x2="647.64" y2="563.7" stroke="#555" stroke-width="1.1"/>
<line x1="663.18" y1="561.8" x2="663.18" y2="563.7" stroke="#555" stroke-width="1.1"/>
<line x1="678.72" y1="561.8" x2="678.72" y2="563.7" stroke="#555" stroke-width="1.1"/>
<line x1="694.26" y1="561.8" x2="694.26" y2="563.7" stroke="#555" stroke-width="1.1"/>
<line x1="709.8" y1="561.8" x2="709.8" y2="563.7" stroke="#555" stroke-width="1.1"/>
<line x1="725.34" y1="561.8" x2="725.34" y2="563.7" stroke="#555" stroke-width="1.1"/>
<line x1="740.88" y1="561.8" x2="740.88" y2="563.7" stroke="#555" stroke-width="1.1"/>
<line x1="756.42" y1="561.8" x2="756.42" y2="563.7" stroke="#555" stroke-width="1.1"/>
<line x1="771.96" y1="561.8" x2="771.96" y2="563.7" stroke="#555" stroke-width="1.1"/>
<line x1="787.5" y1="561.8" x2="787.5" y2="563.7" stroke="#555" stroke-width="1.1"/>
<line x1="803.04" y1="561.8" x2="803.04" y2="563.7" stroke="#555" stroke-width="1.1"/>
<line x1="818.58" y1="561.8" x2="818.58" y2="563.7" stroke="#555" stroke-width="1.1"/>
<line x1="834.12" y1="561.8" x2="834.12" y2="563.7" stroke="#555" stroke-width="1.1"/>
<line x1="849.66" y1="561.8" x2="849.66" y2="563.7" stroke="#555" stroke-width="1.1"/>
<line x1="865.2" y1="561.8" x2="865.2" y2="563.7" stroke="#555" stroke-width="1.1"/>
<line x1="880.74" y1="561.8" x2="880.74" y2="563.7" stroke="#555" stroke-width="1.1"/>
<line x1="896.28" y1="561.8" x2="896.28" y2="563.7" stroke="#555" stroke-width="1.1"/>
<line x1="911.82" y1="561.8" x2="911.82" y2="563.7" stroke="#555" stroke-width="1.1"/>
<line x1="927.36" y1="561.8" x2="927.36" y2="563.7" stroke="#555" stroke-width="1.1"/>
<line x1="942.9" y1="561.8" x2="942.9" y2="563.7" stroke="#555" stroke-width="1.1"/>
<line x1="958.44" y1="561.8" x2="958.44" y2="563.7" stroke="#555" stroke-width="1.1"/>
<line x1="973.98" y1="561.8" x2="973.98" y2="563.7" stroke="#555" stroke-width="1.1"/>
<text x="-8.6" y="576" font-size="9.8" fill="#282828" textLength="38.2" lengthAdjust="spacingAndGlyphs">1/4/2024</text>
<text x="145.4" y="576" font-size="9.8" fill="#282828" textLength="41" lengthAdjust="spacingAndGlyphs">1/19/2024</text>
<text x="302.2" y="576" font-size="9.8" fill="#282828" textLength="38.2" lengthAdjust="spacingAndGlyphs">2/2/2024</text>
<text x="455.95" y="576" font-size="9.8" fill="#282828" textLength="41.5" lengthAdjust="spacingAndGlyphs">2/16/2024</text>
<text x="612.85" y="576" font-size="9.8" fill="#282828" textLength="38.5" lengthAdjust="spacingAndGlyphs">3/4/2024</text>
<text x="766.85" y="576" font-size="9.8" fill="#282828" textLength="41.3" lengthAdjust="spacingAndGlyphs">3/18/2024</text>
<text x="923.85" y="576" font-size="9.8" fill="#282828" textLength="38.1" lengthAdjust="spacingAndGlyphs">4/2/2024</text>
<text x="995.1" y="105.5" font-size="9.9" fill="#282828" textLength="26" lengthAdjust="spacingAndGlyphs">521.00</text>
<text x="996.6" y="182.1" font-size="9.9" fill="#282828" textLength="24.5" lengthAdjust="spacingAndGlyphs">511.00</text>
<text x="995.1" y="258.65" font-size="9.9" fill="#282828" textLength="26" lengthAdjust="spacingAndGlyphs">501.00</text>
<text x="994.8" y="334.8" font-size="9.9" fill="#282828" textLength="26.3" lengthAdjust="spacingAndGlyphs">491.00</text>
<text x="994.8" y="411.8" font-size="9.9" fill="#282828" textLength="26.3" lengthAdjust="spacingAndGlyphs">481.00</text>
<text x="994.8" y="487.9" font-size="9.9" fill="#282828" textLength="26.3" lengthAdjust="spacingAndGlyphs">471.00</text>
<text x="995" y="563.8" font-size="9.9" fill="#282828" textLength="26.1" lengthAdjust="spacingAndGlyphs">461.00</text>
<rect x="0" y="0" width="1024" height="20" fill="#e7e7e7"/>
<rect x="0" y="20" width="1024" height="1" fill="#82b3da"/>
<rect x="0" y="21" width="1024" height="1" fill="#dbeaf6"/>
<rect x="1.5" y="0.5" width="66" height="15.5" fill="#e6e6e6" stroke="#a9a9a9" stroke-width="1"/>
<rect x="2.5" y="1.5" width="64" height="13.5" fill="none" stroke="#efefef" stroke-width="1"/>
<text x="6.8" y="12.1" font-size="9.9" fill="#2a2a2a" textLength="38.6" lengthAdjust="spacingAndGlyphs">3 Months</text>
<path d="M59.2,6.6 L64.8,6.6 L62,9.9 Z" fill="#111"/>
<rect x="69.7" y="1.5" width="13.2" height="13.5" fill="#e4e4e4" stroke="#a2a2a2" stroke-width="1"/>
<rect x="85.7" y="1.5" width="13" height="13.5" fill="#e4e4e4" stroke="#a2a2a2" stroke-width="1"/>
<rect x="72" y="7.1" width="8.4" height="2.6" fill="#1c87cf"/>
<rect x="74.9" y="4.2" width="2.6" height="8.4" fill="#1c87cf"/>
<rect x="87.9" y="7.1" width="8.4" height="2.6" fill="#1c87cf"/>
<rect x="102.7" y="0.5" width="51.6" height="15.5" fill="#e6e6e6" stroke="#a9a9a9" stroke-width="1"/>
<rect x="103.7" y="1.5" width="49.6" height="13.5" fill="none" stroke="#efefef" stroke-width="1"/>
<text x="106.4" y="12.1" font-size="9.9" fill="#2a2a2a" textLength="19.8" lengthAdjust="spacingAndGlyphs">Daily</text>
<path d="M146.4,6.6 L152,6.6 L149.2,9.9 Z" fill="#111"/>
<text x="158.8" y="11.9" font-size="10" fill="#445270" textLength="17" lengthAdjust="spacingAndGlyphs">(+1)</text>
<rect x="180.5" y="3.5" width="10" height="9.2" fill="#d6d6d6" stroke="#9c9c9c" stroke-width="1"/>
<rect x="182.6" y="7.2" width="5.8" height="1.9" fill="#000"/>
<rect x="184.55" y="5.2" width="1.9" height="5.8" fill="#000"/>
<rect x="192.5" y="3.5" width="10" height="9.2" fill="#f6f6f6" stroke="#a8a8a8" stroke-width="1"/>
<rect x="194.6" y="7.2" width="5.8" height="1.9" fill="#000"/>
<rect x="460.5" y="0.5" width="171.8" height="16.6" rx="2" fill="#ffffff" stroke="#cbcbcb" stroke-width="1"/>
<text x="465.9" y="14.5" font-size="10.1" fill="#2a2a2a" textLength="56.8" lengthAdjust="spacingAndGlyphs">SPDRs - SPY</text>
<text x="526.2" y="14.5" font-size="10.1" fill="#2a2a2a" textLength="100.3" lengthAdjust="spacingAndGlyphs">(1/4/2024 - 4/4/2024)</text>
<circle cx="639.6" cy="7.6" r="3.0" fill="none" stroke="#1a1a1a" stroke-width="1.25"/>
<line x1="642.2" y1="10.2" x2="645.6" y2="13.5" stroke="#1a1a1a" stroke-width="1.9" stroke-linecap="round"/>
<rect x="905.9" y="0.5" width="66.2" height="14.7" fill="#e6e6e6" stroke="#a9a9a9" stroke-width="1"/>
<rect x="906.9" y="1.5" width="64.2" height="12.7" fill="none" stroke="#efefef" stroke-width="1"/>
<text x="912.7" y="11.3" font-size="9.9" fill="#2a2a2a" textLength="39.4" lengthAdjust="spacingAndGlyphs">Indicators</text>
<path d="M965,5.8 L970.6,5.8 L967.8,9.1 Z" fill="#111"/>
<rect x="974.6" y="0.5" width="42.1" height="14.7" fill="#e6e6e6" stroke="#a9a9a9" stroke-width="1"/>
<rect x="975.6" y="1.5" width="40.1" height="12.7" fill="none" stroke="#efefef" stroke-width="1"/>
<text x="981.1" y="11.3" font-size="9.9" fill="#2a2a2a" textLength="23" lengthAdjust="spacingAndGlyphs">Views</text>
<path d="M1007.9,5.8 L1013.5,5.8 L1010.7,9.1 Z" fill="#111"/>
<circle cx="1020.9" cy="6.4" r="1.3" fill="#333"/>
<path d="M48,24.5 L56.5,24.5 L48,33 Z" fill="#12aa12"/>
<path d="M56.5,24.5 L56.5,33 L48,33 Z" fill="#d40a0a"/>
<text x="63.2" y="32.5" font-size="9.4" fill="#2e2e2e" textLength="12.4" lengthAdjust="spacingAndGlyphs">Bar</text>
<rect x="90.5" y="24.6" width="13" height="6.2" fill="#b5fbff" filter="url(#glow2)"/>
<rect x="92.2" y="26.3" width="9.5" height="2.8" fill="#0010ff"/>
<text x="105.2" y="32.6" font-size="9.4" fill="#2e2e2e" textLength="50.2" lengthAdjust="spacingAndGlyphs">Long.Predict</text>
<circle cx="159.8" cy="32" r="1.6" fill="#3b98b5"/>
<rect x="173.9" y="26.8" width="9.8" height="2.5" fill="#333"/>
<text x="186.9" y="32.6" font-size="9.4" fill="#2e2e2e" textLength="47.8" lengthAdjust="spacingAndGlyphs">Long.Actual</text>
<rect x="0" y="584" width="1024" height="2" fill="#e3e3e3"/>
</svg>
</body></html>
